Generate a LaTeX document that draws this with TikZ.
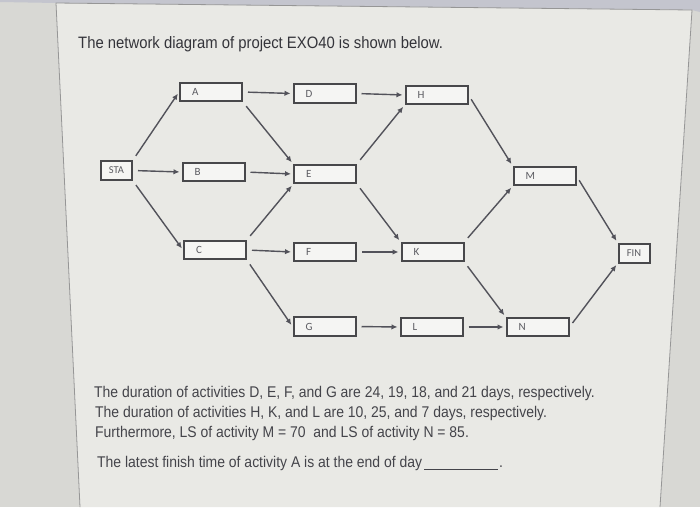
\documentclass[tikz,border=0pt]{standalone}
\usepackage{fontspec}
\setmainfont{Liberation Sans}
\newfontfamily\qfont[FakeStretch=0.9]{Liberation Sans}
\newfontfamily\boxfont{Carlito}
\usetikzlibrary{arrows.meta}
\definecolor{outbg}{RGB}{216,216,212}
\definecolor{panelbg}{RGB}{233,233,229}
\definecolor{topband}{RGB}{196,197,206}
\definecolor{paneledge}{RGB}{150,150,150}
\definecolor{txt}{RGB}{52,52,58}
\definecolor{boxline}{RGB}{72,72,75}
\definecolor{boxlab}{RGB}{92,92,98}
\definecolor{arr}{RGB}{82,82,90}
\begin{document}
\begin{tikzpicture}[x=1pt,y=-1pt,
  act/.style={draw=boxline, line width=2pt, fill=white!55!panelbg,
    minimum height=18.5pt, inner xsep=12pt, inner ysep=0pt, text width=38pt,
    align=left, font=\boxfont\fontsize{11}{12}\selectfont, text=boxlab},
  endbox/.style={draw=boxline, line width=2pt, fill=white!55!panelbg,
    minimum height=19pt, minimum width=31pt, inner sep=0pt,
    font=\boxfont\fontsize{10.5}{11}\selectfont, text=boxlab},
  conn/.style={draw=arr, line width=1.4pt, -{Latex[length=6pt,width=5.5pt]},
    shorten <=5pt, shorten >=2pt},
  titletxt/.style={anchor=base west, inner sep=0pt, text=txt,
    font=\qfont\fontsize{16.5}{18}\selectfont},
  qtxt/.style={anchor=base west, inner sep=0pt, text=txt!92!white,
    font=\qfont\fontsize{15.5}{17}\selectfont}]
\useasboundingbox (0,0) rectangle (700,507);
% background (photo of a screen)
\fill[outbg] (0,0) rectangle (700,507);
\fill[topband] (0,0) -- (700,0) -- (700,12) -- (692,10) -- (56,3) -- (0,2) -- cycle;
\fill[panelbg] (56,3) -- (692,10) -- (660,507) -- (80,507) -- cycle;
\draw[paneledge, line width=0.8pt] (80,507) -- (56,3) -- (692,10) -- (660,507);
% title
\node[titletxt] (title) at (78,48) {The network diagram of project EXO40 is shown below.};
% activity boxes
\node[endbox] (STA) at (116.5,170.5) {STA};
\node[act] (A) at (211,92) {A};
\node[act] (B) at (213.5,172) {B};
\node[act] (C) at (215,250) {C};
\node[act] (D) at (324.5,93.5) {D};
\node[act] (E) at (325,174) {E};
\node[act] (F) at (325,252) {F};
\node[act] (G) at (324.5,326.5) {G};
\node[act] (H) at (436.5,95) {H};
\node[act] (K) at (432.5,252) {K};
\node[act] (L) at (431.5,327) {L};
\node[act] (M) at (544.5,176) {M};
\node[act] (N) at (537.5,327) {N};
\node[endbox] (FIN) at (634,253) {FIN};
% connectors
\draw[conn] (STA.north east) -- (A.west);
\draw[conn] (STA.east) -- (B.west);
\draw[conn] (STA.south east) -- (C.west);
\draw[conn] (A.east) -- (D.west);
\draw[conn] (A.south east) -- (E.north west);
\draw[conn] (B.east) -- (E.west);
\draw[conn] (C.north east) -- (E.south west);
\draw[conn] (C.east) -- (F.west);
\draw[conn] (C.south east) -- (G.west);
\draw[conn] (D.east) -- (H.west);
\draw[conn] (E.north east) -- (H.south west);
\draw[conn] (E.south east) -- (K.north west);
\draw[conn] (F.east) -- (K.west);
\draw[conn] (G.east) -- (L.west);
\draw[conn] (H.east) -- (M.north west);
\draw[conn] (K.north east) -- (M.south west);
\draw[conn] (K.south east) -- (N.north west);
\draw[conn] (L.east) -- (N.west);
\draw[conn] (M.east) -- (FIN.north west);
\draw[conn] (N.east) -- (FIN.south west);
% question text
\node[qtxt] (q1) at (94,397) {The duration of activities D, E, F, and G are 24, 19, 18, and 21 days, respectively.};
\node[qtxt] (q2) at (95,417) {The duration of activities H, K, and L are 10, 25, and 7 days, respectively.};
\node[qtxt] (q3) at (95,437) {Furthermore, LS of activity M = 70\ \ and LS of activity N = 85.};
\node[qtxt] (q4) at (97,467) {The latest finish time of activity A is at the end of day};
\draw[txt!92!white, line width=0.8pt] (424,469) -- (498,469);
\node[qtxt] (q4end) at (499,467) {.};
\end{tikzpicture}
\end{document}
